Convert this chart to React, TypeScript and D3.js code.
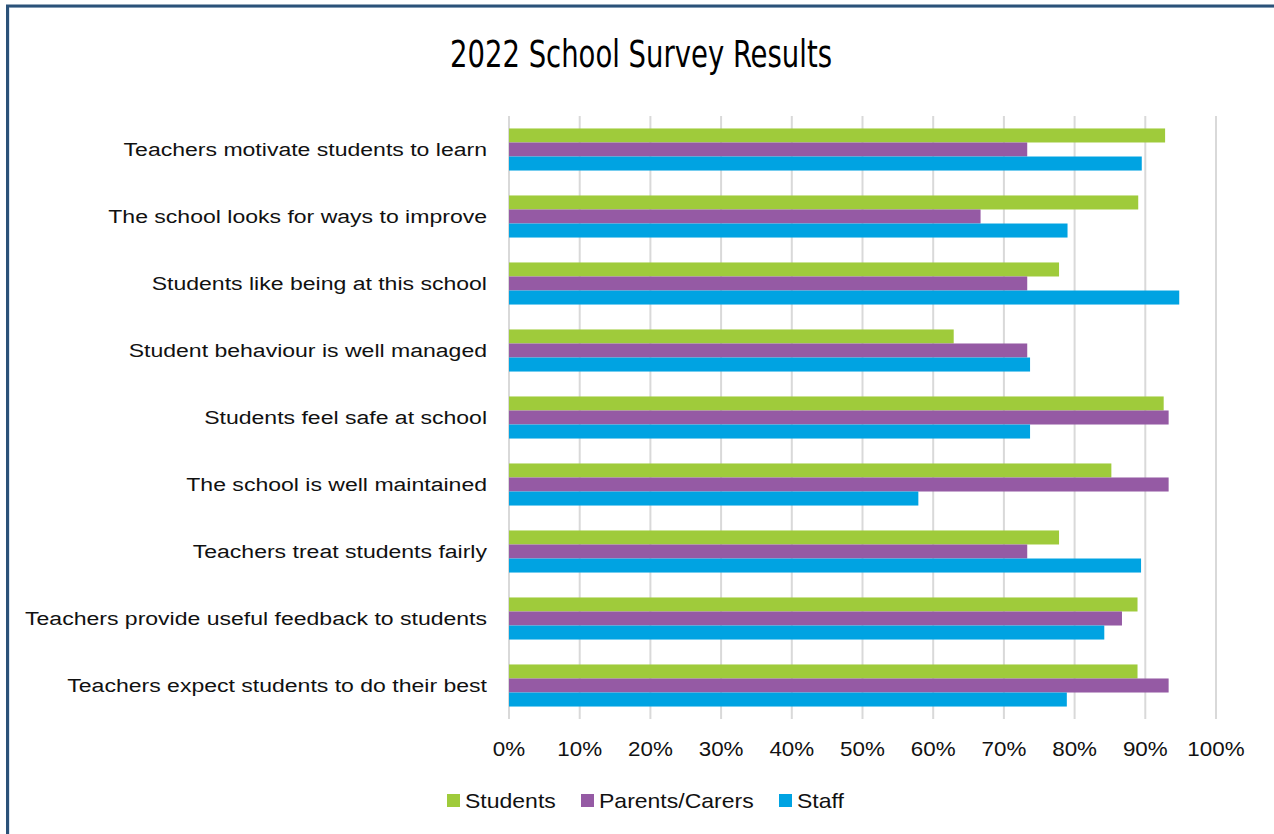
import React from "react";
import * as d3 from "d3";

const categories = [
  "Teachers motivate students to learn",
  "The school looks for ways to improve",
  "Students like being at this school",
  "Student behaviour is well managed",
  "Students feel safe at school",
  "The school is well maintained",
  "Teachers treat students fairly",
  "Teachers provide useful feedback to students",
  "Teachers expect students to do their best",
];
const seriesNames = ["Students", "Parents/Carers", "Staff"];
const students = [92.8, 89.0, 77.8, 62.9, 92.6, 85.2, 77.8, 88.9, 88.9];
const parents = [73.3, 66.7, 73.3, 73.3, 93.3, 93.3, 73.3, 86.7, 93.3];
const staff = [89.5, 79.0, 94.8, 73.7, 73.7, 57.9, 89.4, 84.2, 78.9];
const tickValues = [0, 10, 20, 30, 40, 50, 60, 70, 80, 90, 100];
const colors = ["#9FCB3B", "#955AA4", "#00A3E2"];

const seriesValues = [students, parents, staff];

export default function App() {
  const W = 1274, H = 834;
  const x = d3.scaleLinear().domain([0, 100]).range([509, 1216]);
  const y = d3.scaleBand<string>().domain(categories).range([116, 719]).paddingInner(0.372).paddingOuter(0.186);
  const inner = d3.scaleBand<string>().domain(seriesNames).range([0, y.bandwidth()]).padding(0);
  const labelFont = "'Liberation Sans', Arial, sans-serif";
  const legendItems = [
    { name: seriesNames[0], sx: 447, tx: 465 },
    { name: seriesNames[1], sx: 581, tx: 599 },
    { name: seriesNames[2], sx: 779, tx: 797 },
  ];
  return (
    <svg width={W} height={H} style={{ position: "absolute", left: 0, top: 0, background: "#fff" }}>
      <rect x={0} y={0} width={W} height={H} fill="#fff" />
      <rect x={9.5} y={7.5} width={W + 20} height={H + 20} fill="none" stroke="#DCE6F1" strokeWidth={1} />
      <rect x={7.5} y={6} width={W + 20} height={H + 20} fill="none" stroke="#2B5279" strokeWidth={3} />
      <text x={641} y={67} textAnchor="middle" fontFamily="'Liberation Sans Narrow', 'DejaVu Sans Condensed', sans-serif" fontSize={37} textLength={382} lengthAdjust="spacingAndGlyphs" fill="#000">
        2022 School Survey Results
      </text>
      {tickValues.map((t) => (
        <line key={"g" + t} x1={x(t)} x2={x(t)} y1={116} y2={719} stroke="#D9D9D9" strokeWidth={2} />
      ))}
      {categories.map((c, i) => (
        <g key={c}>
          {seriesNames.map((s, j) => (
            <rect key={s} x={x(0)} y={(y(c) as number) + (inner(s) as number)} width={x(seriesValues[j][i]) - x(0)} height={inner.bandwidth()} fill={colors[j]} />
          ))}
          <text transform={`translate(487,${(y(c) as number) + y.bandwidth() / 2 + 6.5}) scale(1.28,1)`} textAnchor="end" fontFamily={labelFont} fontSize={18} fill="#111">
            {c}
          </text>
        </g>
      ))}
      {tickValues.map((t) => (
        <text key={"t" + t} transform={`translate(${x(t)},756) scale(1.12,1)`} textAnchor="middle" fontFamily={labelFont} fontSize={20} fill="#111">
          {t + "%"}
        </text>
      ))}
      {legendItems.map((l, j) => (
        <g key={l.name}>
          <rect x={l.sx} y={794} width={13} height={13} fill={colors[j]} />
          <text transform={`translate(${l.tx},808) scale(1.15,1)`} fontFamily={labelFont} fontSize={20} fill="#111">
            {l.name}
          </text>
        </g>
      ))}
    </svg>
  );
}
